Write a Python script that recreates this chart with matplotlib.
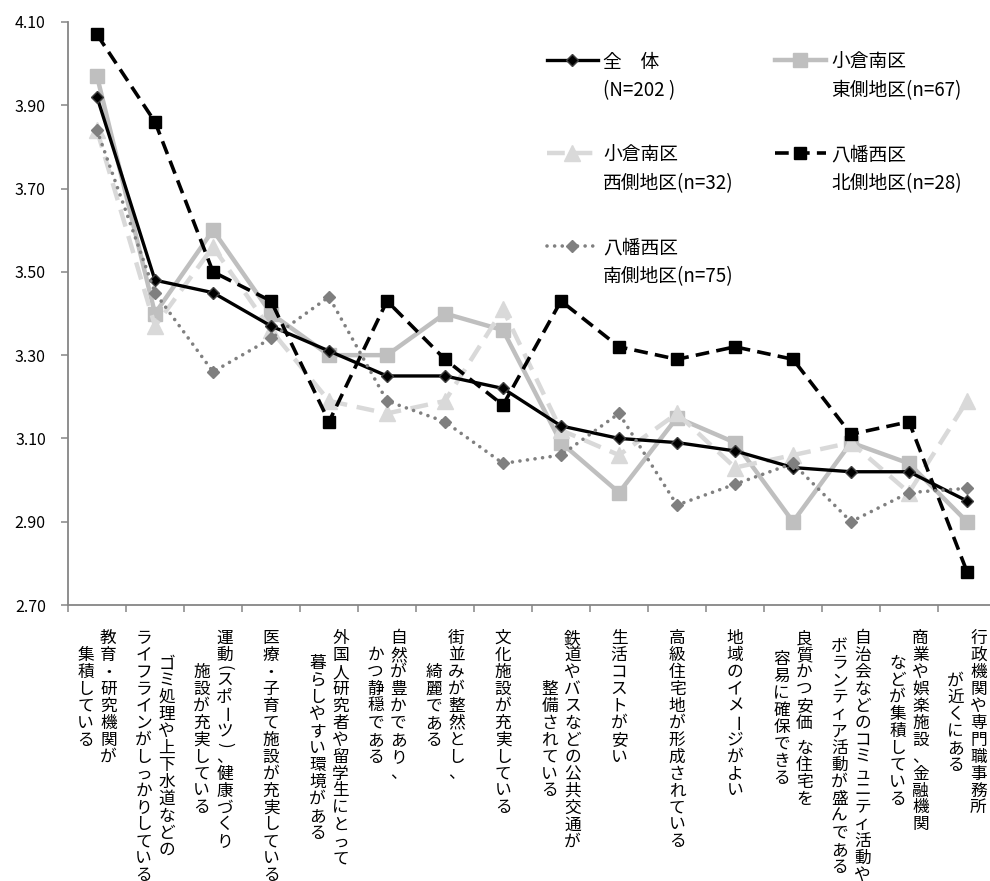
import matplotlib
matplotlib.use("Agg")
import matplotlib.pyplot as plt
import matplotlib.transforms as mtransforms

plt.rcParams['font.family'] = ['Noto Sans CJK JP', 'DejaVu Sans']

categories = [
    "教育・研究機関が\n集積している",
    "ゴミ処理や上下水道などの\nライフラインがしっかりしている",
    "運動(スポーツ)、健康づくり\n施設が充実している",
    "医療・子育て施設が充実している",
    "外国人研究者や留学生にとって\n暮らしやすい環境がある",
    "自然が豊かであり、\nかつ静穏である",
    "街並みが整然とし、\n綺麗である",
    "文化施設が充実している",
    "鉄道やバスなどの公共交通が\n整備されている",
    "生活コストが安い",
    "高級住宅地が形成されている",
    "地域のイメージがよい",
    "良質かつ安価 な住宅を\n容易に確保できる",
    "自治会などのコミュニティ活動や\nボランティア活動が盛んである",
    "商業や娯楽施設、金融機関\nなどが集積している",
    "行政機関や専門職事務所\nが近くにある",
]

zentai = [3.92, 3.48, 3.45, 3.37, 3.31, 3.25, 3.25, 3.22, 3.13, 3.10, 3.09, 3.07, 3.03, 3.02, 3.02, 2.95]
kokura_east = [3.97, 3.40, 3.60, 3.40, 3.30, 3.30, 3.40, 3.36, 3.09, 2.97, 3.15, 3.09, 2.90, 3.09, 3.04, 2.90]
kokura_west = [3.84, 3.37, 3.56, 3.36, 3.19, 3.16, 3.19, 3.41, 3.12, 3.06, 3.16, 3.03, 3.06, 3.09, 2.97, 3.19]
yahata_north = [4.07, 3.86, 3.50, 3.43, 3.14, 3.43, 3.29, 3.18, 3.43, 3.32, 3.29, 3.32, 3.29, 3.11, 3.14, 2.78]
yahata_south = [3.84, 3.45, 3.26, 3.34, 3.44, 3.19, 3.14, 3.04, 3.06, 3.16, 2.94, 2.99, 3.04, 2.90, 2.97, 2.98]

legend_labels = [
    "全　体\n(N=202 )",
    "小倉南区\n東側地区(n=67)",
    "小倉南区\n西側地区(n=32)",
    "八幡西区\n北側地区(n=28)",
    "八幡西区\n南側地区(n=75)",
]

fig = plt.figure(figsize=(9.9, 8.81), dpi=100)
ax = fig.add_axes([68 / 990, 1 - 605 / 881, 928 / 990, 583 / 881])

x = list(range(len(categories)))

l_all, = ax.plot(x, zentai, color="black", lw=2.4, marker="D", ms=6.5,
                 mfc="black", mec="#404040", zorder=3)
l_ke, = ax.plot(x, kokura_east, color="#BFBFBF", lw=3.2, marker="s", ms=10,
                mfc="#BFBFBF", mec="#BFBFBF", zorder=2)
l_kw, = ax.plot(x, kokura_west, color="#D9D9D9", lw=3.2, ls=(0, (4, 2.2)),
                marker="^", ms=11, mfc="#D9D9D9", mec="#D9D9D9", zorder=2)
l_yn, = ax.plot(x, yahata_north, color="black", lw=2.6, ls=(0, (3.8, 2)),
                marker="s", ms=8, mfc="black", mec="black", zorder=4)
l_ys, = ax.plot(x, yahata_south, color="#808080", lw=2.6, ls=(0, (0.01, 2.1)),
                dash_capstyle="round", marker="D", ms=6.5, mfc="#7F7F7F",
                mec="#7F7F7F", zorder=5)

ax.set_xlim(-0.5, len(categories) - 0.5)
ax.set_ylim(2.7, 4.1)
ax.set_yticks([2.7, 2.9, 3.1, 3.3, 3.5, 3.7, 3.9, 4.1])
ax.set_yticklabels([f"{v:.2f}" for v in ax.get_yticks()], fontsize=11.5)
ax.set_xticks([i - 0.5 for i in range(len(categories) + 1)])
ax.set_xticklabels([])

for s in ["top", "right"]:
    ax.spines[s].set_visible(False)
for s in ["left", "bottom"]:
    ax.spines[s].set_color("#868686")
    ax.spines[s].set_linewidth(1.3)
ax.tick_params(axis="both", direction="out", length=5, width=1.1, color="#868686")
ax.tick_params(axis="y", pad=11)

# vertical (tategaki) category labels, one glyph at a time
step = 12.2      # pt per character
col_step = 16.5  # pt between columns
top_gap = 18.0   # pt from axis to first glyph
rotate_chars = {"ー", "(", ")"}
half_chars = {"(", ")", " "}

for xi, label in zip(x, categories):
    lines = label.split("\n")
    adv = [[0.5 if c in half_chars else 1.0 for c in ln] for ln in lines]
    longest = max(sum(a) for a in adv)
    n = len(lines)
    for i, (ln, a) in enumerate(zip(lines, adv)):
        dx = ((n - 1) / 2 - i) * col_step
        pos = (longest - sum(a)) / 2
        for ch, w in zip(ln, a):
            dy = -(top_gap + (pos + w / 2) * step)
            pos += w
            if ch == " ":
                continue
            tr = ax.get_xaxis_transform() + mtransforms.ScaledTranslation(
                dx / 72, dy / 72, fig.dpi_scale_trans)
            ax.text(xi, 0, ch, transform=tr, ha="center", va="center",
                    fontsize=12, rotation=-90 if ch in rotate_chars else 0,
                    clip_on=False)

handles = [l_all, l_kw, l_ys, l_ke, l_yn]
labels = [legend_labels[0], legend_labels[2], legend_labels[4],
          legend_labels[1], legend_labels[3]]
leg = fig.legend(handles, labels, loc="upper left",
                 bbox_to_anchor=(547 / 990, 1 - 52 / 881), ncol=2,
                 frameon=False, fontsize=13.5, borderpad=0, borderaxespad=0,
                 handlelength=2.7, handletextpad=0.3, handleheight=1.3,
                 columnspacing=2.2, labelspacing=2.33)
for t in leg.get_texts():
    t.set_linespacing(1.45)
for col in leg._legend_handle_box.get_children():
    for row in col.get_children():
        row.align = "top"

fig.savefig("out.png", dpi=100)
